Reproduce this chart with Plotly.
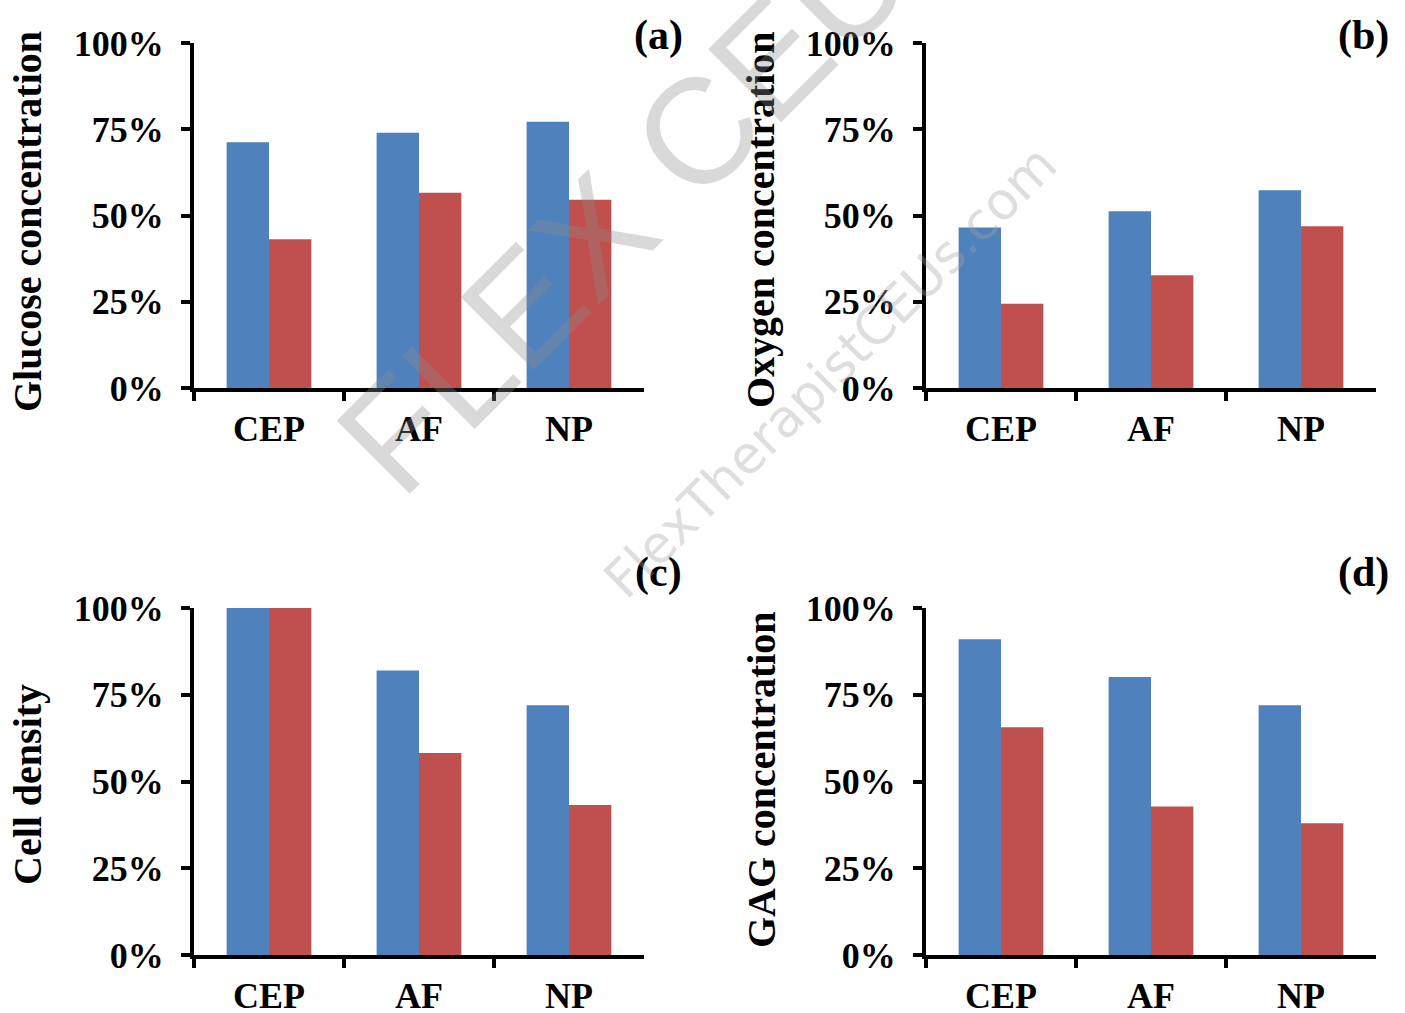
import plotly.graph_objects as go

# ---------------- data ----------------
categories = ["CEP", "AF", "NP"]

glucose_blue = [71.2, 74.0, 77.2]
glucose_red = [43.1, 56.6, 54.6]

oxygen_blue = [46.5, 51.2, 57.3]
oxygen_red = [24.4, 32.7, 46.9]

cell_blue = [100.0, 82.0, 72.0]
cell_red = [100.0, 58.2, 43.2]

gag_blue = [91.0, 80.1, 72.0]
gag_red = [65.6, 42.8, 38.0]

y_titles = ["Glucose concentration", "Oxygen concentration", "Cell density", "GAG concentration"]
panel_labels = ["(a)", "(b)", "(c)", "(d)"]
y_tickvals = [0, 25, 50, 75, 100]
y_ticktext = ["0%", "25%", "50%", "75%", "100%"]

# ---------------- style ----------------
W, H = 1405, 1013
BLUE = "#4F81BD"
RED = "#C0504D"
FONT = "Liberation Serif"

def px_x(p):
    return p / W

def px_y(p):
    return 1 - p / H

x_domains = [[px_x(194), px_x(644)], [px_x(926), px_x(1376)]]
y_domains = [[px_y(388), px_y(43)], [px_y(955), px_y(608)]]

series = [
    (glucose_blue, glucose_red),
    (oxygen_blue, oxygen_red),
    (cell_blue, cell_red),
    (gag_blue, gag_red),
]

fig = go.Figure()
layout_axes = {}
annotations = []

title_x_px = [27, 761]
title_y_px = [222, 220, 785, 780]
label_x_px = [658, 1363]
label_y_px = [35, 572]

for i, (b, r) in enumerate(series):
    col = i % 2
    row = i // 2
    s = "" if i == 0 else str(i + 1)
    fig.add_trace(go.Bar(x=categories, y=b, marker=dict(color=BLUE, line=dict(width=0)),
                         xaxis="x" + s, yaxis="y" + s, showlegend=False))
    fig.add_trace(go.Bar(x=categories, y=r, marker=dict(color=RED, line=dict(width=0)),
                         xaxis="x" + s, yaxis="y" + s, showlegend=False))
    layout_axes["xaxis" + s] = dict(
        domain=x_domains[col], anchor="y" + s, type="category",
        range=[-0.5, 2.5], showline=True, linecolor="black", linewidth=4,
        ticks="outside", tickson="boundaries", ticklen=9, tickwidth=4, tickcolor="black",
        tickfont=dict(family=FONT, size=36, color="black", weight="bold"),
        ticklabelstandoff=6, showgrid=False, zeroline=False, fixedrange=True,
        automargin=False,
    )
    layout_axes["yaxis" + s] = dict(
        domain=y_domains[row], anchor="x" + s, range=[0, 100],
        tickmode="array", tickvals=y_tickvals, ticktext=y_ticktext,
        showline=True, linecolor="black", linewidth=4,
        ticks="outside", ticklen=9, tickwidth=4, tickcolor="black",
        tickfont=dict(family=FONT, size=36, color="black", weight="bold"),
        ticklabelstandoff=10, showgrid=False, zeroline=False, fixedrange=True,
        automargin=False,
    )
    annotations.append(dict(
        text=y_titles[i], textangle=-90, xref="paper", yref="paper",
        x=px_x(title_x_px[col]), y=px_y(title_y_px[i]),
        xanchor="center", yanchor="middle", showarrow=False,
        font=dict(family=FONT, size=40, color="black", weight="bold"),
    ))
    annotations.append(dict(
        text=panel_labels[i], xref="paper", yref="paper",
        x=px_x(label_x_px[col]), y=px_y(label_y_px[row]),
        xanchor="center", yanchor="middle", showarrow=False,
        font=dict(family=FONT, size=42, color="black", weight="bold"),
    ))

# faint watermark text
annotations.append(dict(
    text="FLEX CEUs", textangle=-45, xref="paper", yref="paper",
    x=px_x(650), y=px_y(180), xanchor="center", yanchor="middle", showarrow=False,
    font=dict(family="Liberation Sans", size=150, color="rgba(140,140,140,0.33)", weight="normal"),
))
annotations.append(dict(
    text="FlexTherapistCEUs.com", textangle=-45, xref="paper", yref="paper",
    x=px_x(830), y=px_y(372), xanchor="center", yanchor="middle", showarrow=False,
    font=dict(family="DejaVu Sans", size=52, color="rgba(160,160,160,0.35)", weight="normal"),
))

fig.update_layout(
    width=W, height=H, autosize=False,
    margin=dict(l=0, r=0, t=0, b=0, pad=0),
    paper_bgcolor="white", plot_bgcolor="white",
    barmode="group", bargap=0.435, bargroupgap=0,
    font=dict(family=FONT, color="black"),
    annotations=annotations,
    showlegend=False,
    **layout_axes,
)

fig.write_html(
    "out.html",
    config={"displayModeBar": False, "staticPlot": True},
    post_script="document.body.style.margin='0px';document.body.style.padding='0px';",
)
